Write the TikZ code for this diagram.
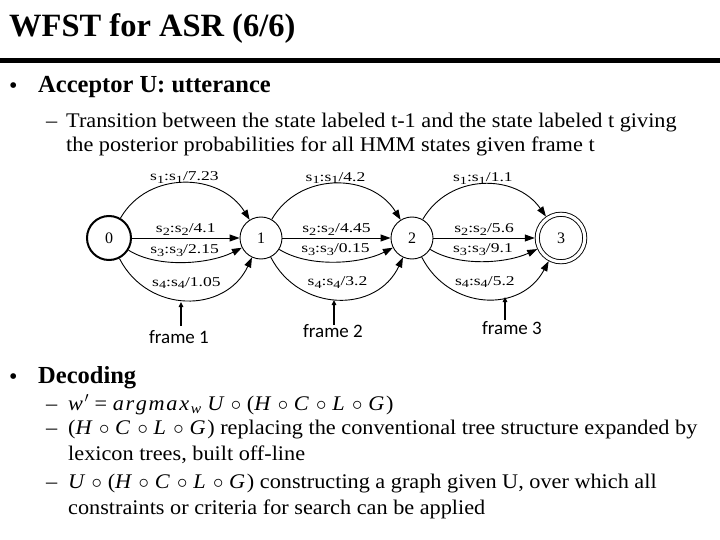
\documentclass[tikz,border=0pt]{standalone}
\usepackage{fontspec}
\setmainfont{Liberation Serif}
\newfontfamily\bodyfont[FakeStretch=1.07]{Liberation Serif}
\newfontfamily\lblfont[FakeStretch=1.3]{Liberation Serif}
\newfontfamily\framefont{Carlito}
\usetikzlibrary{arrows.meta}
\newcommand{\sx}[1]{s\raisebox{-0.45ex}{\fontsize{11}{11}\selectfont #1}}
\newcommand{\elab}[3]{\sx{#1}:\sx{#2}/#3}
\newcommand{\ci}{\ensuremath{\;\circ\;}}
\newcommand{\mi}[1]{\textit{#1\kern0.08em}}
\tikzset{
  body/.style={anchor=base west, inner sep=0pt, font=\fontsize{20.8}{24}\bodyfont},
  head/.style={anchor=base west, inner sep=0pt, font=\fontsize{24.5}{28}\selectfont\bfseries},
  bul/.style={anchor=base west, inner sep=0pt, font=\fontsize{24}{24}\selectfont},
  state/.style={circle, draw, line width=0.9pt, inner sep=0pt, font=\fontsize{16}{16}\selectfont},
  edge/.style={draw, line width=0.9pt, -{Triangle[length=10pt,width=7pt]}},
  lab/.style={inner sep=0.5pt, font=\fontsize{13.5}{14}\lblfont},
  farrow/.style={draw, line width=1.3pt, -{Triangle[length=5pt,width=4.5pt]}},
  framelab/.style={inner sep=0pt, font=\fontsize{19}{22}\framefont}
}
\begin{document}
\begin{tikzpicture}[x=1pt,y=-1pt]
\useasboundingbox (0,0) rectangle (720,540);
% title and rule
\node[anchor=base west, inner sep=0pt, font=\fontsize{32.5}{36}\selectfont\bfseries] (title) at (9,37) {WFST for ASR (6/6)};
\fill (0,58) rectangle (720,63);
% Acceptor section
\node[bul] (b1) at (9,94) {•};
\node[head] (h1) at (38,93) {Acceptor U: utterance};
\node[body] (d1) at (46,128) {–};
\node[body] (t1) at (66,128) {Transition between the state labeled t-1 and the state labeled t giving};
\node[body] (t2) at (66,152) {the posterior probabilities for all HMM states given frame t};
% states
\node[state, line width=2pt, minimum size=44pt] (s0) at (109,238) {0};
\node[state, minimum size=42pt] (s1) at (261,238) {1};
\node[state, minimum size=42pt] (s2) at (412,238) {2};
\node[state, double, double distance=3.2pt, minimum size=47.5pt, outer sep=2.5pt] (s3) at (561,238) {3};
% edges 0 -> 1
\draw[edge] (s0) to[out=60,in=122,looseness=1.1] node[midway, above=-1pt, lab] {\elab{1}{1}{7.23}} (s1);
\draw[edge] (s0) -- node[midway, above=2pt, lab] {\elab{2}{2}{4.1}} (s1);
\draw[edge] (s0) to[out=-32,in=-153,looseness=0.8] node[midway, above=5pt, lab] {\elab{3}{3}{2.15}} (s1);
\draw[edge] (s0) to[out=-63,in=-115,looseness=1.2] node[midway, above=10pt, lab] {\elab{4}{4}{1.05}} (s1);
% edges 1 -> 2
\draw[edge] (s1) to[out=60,in=122,looseness=1.1] node[midway, above=-1pt, lab] {\elab{1}{1}{4.2}} (s2);
\draw[edge] (s1) -- node[midway, above=2pt, lab] {\elab{2}{2}{4.45}} (s2);
\draw[edge] (s1) to[out=-32,in=-153,looseness=0.8] node[midway, above=5pt, lab] {\elab{3}{3}{0.15}} (s2);
\draw[edge] (s1) to[out=-63,in=-115,looseness=1.2] node[midway, above=10pt, lab] {\elab{4}{4}{3.2}} (s2);
% edges 2 -> 3
\draw[edge] (s2) to[out=60,in=125,looseness=1.1] node[midway, above=-1pt, lab] {\elab{1}{1}{1.1}} (s3);
\draw[edge] (s2) -- node[midway, above=2pt, lab] {\elab{2}{2}{5.6}} (s3);
\draw[edge] (s2) to[out=-32,in=-155,looseness=0.8] node[midway, above=5pt, lab] {\elab{3}{3}{9.1}} (s3);
\draw[edge] (s2) to[out=-63,in=-118,looseness=1.2] node[midway, above=10pt, lab] {\elab{4}{4}{5.2}} (s3);
% frame labels and arrows
\node[framelab] (f1) at (179,337) {frame 1};
\node[framelab] (f2) at (333,331) {frame 2};
\node[framelab] (f3) at (512,328) {frame 3};
\coordinate (f1a) at (181,326); \coordinate (f1b) at (181,302);
\coordinate (f2a) at (334,325); \coordinate (f2b) at (334,300);
\coordinate (f3a) at (505,320); \coordinate (f3b) at (505,297);
\draw[farrow] (f1a) -- (f1b);
\draw[farrow] (f2a) -- (f2b);
\draw[farrow] (f3a) -- (f3b);
% Decoding section
\node[bul] (b2) at (9,384) {•};
\node[head] (h2) at (38,383) {Decoding};
\node[body] (d2) at (46,410) {–};
\node[body] (u1) at (68,410) {\mi{w}$'$ = \mi{a}\mi{r}\mi{g}\mi{m}\mi{a}\mi{x}\textsubscript{\textit{w}} \mi{U}\ci(\mi{H}\ci\mi{C}\ci\mi{L}\ci\mi{G})};
\node[body] (d3) at (46,434) {–};
\node[body] (u2) at (68,434) {(\mi{H}\ci\mi{C}\ci\mi{L}\ci\mi{G}) replacing the conventional tree structure expanded by};
\node[body] (u3) at (68,460) {lexicon trees, built off-line};
\node[body] (d4) at (46,488) {–};
\node[body] (u4) at (68,488) {\mi{U}\ci(\mi{H}\ci\mi{C}\ci\mi{L}\ci\mi{G}) constructing a graph given U, over which all};
\node[body] (u5) at (68,514) {constraints or criteria for search can be applied};
\end{tikzpicture}
\end{document}
